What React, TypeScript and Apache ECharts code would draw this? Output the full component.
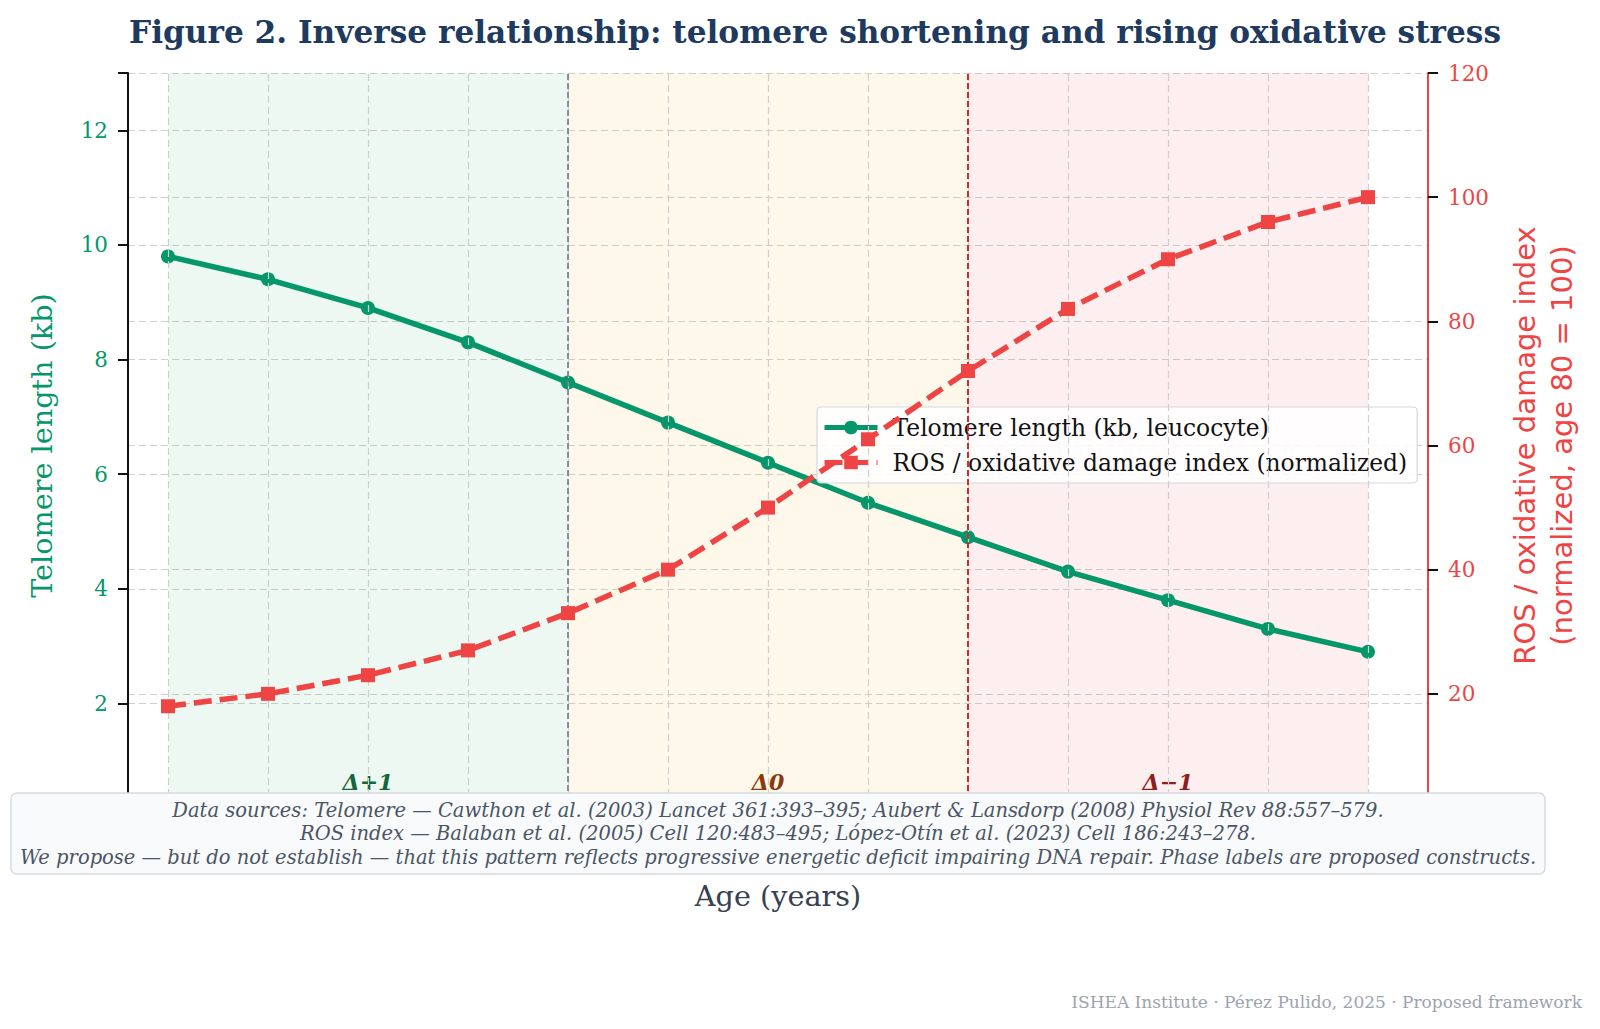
import React, { useEffect, useRef } from "react";
import * as echarts from "echarts";

const AGES = [20, 25, 30, 35, 40, 45, 50, 55, 60, 65, 70, 75, 80];
const TELOMERE = [9.8, 9.4, 8.9, 8.3, 7.6, 6.9, 6.2, 5.5, 4.9, 4.3, 3.8, 3.3, 2.9];
const ROS = [18, 20, 23, 27, 33, 40, 50, 61, 72, 82, 90, 96, 100];

const PHASE_BOUNDS = [20, 40, 60, 80];
const PHASE_LABELS = ["Δ+1", "Δ0", "Δ−1"];
const PHASE_FILLS = ["rgba(40,170,90,0.085)", "rgba(240,195,80,0.12)", "rgba(230,70,70,0.085)"];
const PHASE_TEXT = ["#17663a", "#8a3b0c", "#8f1d1d"];
const BOUNDARY_COLORS = ["rgba(110,120,132,0.8)", "#d12b2b"];

const LEFT_TICKS = { min: 0, max: 13, interval: 2 };
const RIGHT_TICKS = { min: 0, max: 120, interval: 20 };

const TITLE = "Figure 2. Inverse relationship: telomere shortening and rising oxidative stress";
const NOTE_LINES = [
  "Data sources: Telomere — Cawthon et al. (2003) Lancet 361:393–395; Aubert & Lansdorp (2008) Physiol Rev 88:557–579.",
  "ROS index — Balaban et al. (2005) Cell 120:483–495; López-Otín et al. (2023) Cell 186:243–278.",
  "We propose — but do not establish — that this pattern reflects progressive energetic deficit impairing DNA repair. Phase labels are proposed constructs.",
];
const FOOTER = "ISHEA Institute · Pérez Pulido, 2025 · Proposed framework";

const SERIF = "'DejaVu Serif', 'Liberation Serif', serif";
const SANS = "'DejaVu Sans', 'Liberation Sans', sans-serif";
const GREEN = "#059669";
const RED = "#ef4444";

export default function App() {
  const ref = useRef<HTMLDivElement>(null);
  useEffect(() => {
    document.body.style.margin = "0";
    const chart = echarts.init(ref.current!, null, { renderer: "svg" });
    const gridDash = { type: [7, 4] as any, color: "#cfcfcf", width: 1.2 };

    const option: any = {
      animation: false,
      backgroundColor: "#ffffff",
      grid: { left: 128, right: 172, top: 73, bottom: 211, containLabel: false },
      xAxis: {
        type: "value",
        min: 18,
        max: 83,
        axisLine: { show: false },
        axisTick: { show: false },
        axisLabel: { show: false },
        splitLine: { show: false },
        name: "Age (years)",
        nameLocation: "middle",
        nameGap: 63,
        nameTextStyle: { fontFamily: SERIF, fontSize: 28.7, color: "#374151" },
      },
      yAxis: [
        {
          type: "value",
          position: "left",
          ...LEFT_TICKS,
          axisLine: { show: true, lineStyle: { color: "#111", width: 2 } },
          axisTick: { show: true, length: 10, lineStyle: { color: "#111", width: 2 } },
          axisLabel: {
            color: GREEN,
            fontFamily: SERIF,
            fontSize: 21.5,
            margin: 20,
            formatter: (v: number) => (v === 0 || v === 13 ? "" : String(v)),
          },
          splitLine: { show: true, lineStyle: gridDash },
          name: "Telomere length (kb)",
          nameLocation: "middle",
          nameRotate: 90,
          nameGap: 72,
          nameTextStyle: { fontFamily: SERIF, fontSize: 28.7, color: GREEN },
        },
        {
          type: "value",
          position: "right",
          ...RIGHT_TICKS,
          axisLine: { show: true, lineStyle: { color: RED, width: 2 } },
          axisTick: { show: true, length: 10, lineStyle: { color: "#111", width: 2 } },
          axisLabel: {
            color: RED,
            fontFamily: SERIF,
            fontSize: 21.5,
            margin: 20,
            formatter: (v: number) => (v === 0 ? "" : String(v)),
          },
          splitLine: { show: true, lineStyle: gridDash },
          name: "ROS / oxidative damage index\n(normalized, age 80 = 100)",
          nameLocation: "middle",
          nameRotate: 90,
          nameGap: 78,
          nameTextStyle: { fontFamily: SANS, fontSize: 29, color: RED, lineHeight: 37, align: "center" },
        },
      ],
      legend: {
        orient: "vertical",
        left: 817,
        top: 407,
        padding: [9, 10, 9, 5],
        itemGap: 12,
        itemWidth: 53,
        itemHeight: 17,
        backgroundColor: "rgba(255,255,255,0.85)",
        borderColor: "#d4d8de",
        borderWidth: 1.2,
        borderRadius: 4,
        textStyle: { fontFamily: SERIF, fontSize: 23.4, color: "#111", padding: [0, 0, 0, 10] },
        data: [
          { name: "Telomere length (kb, leucocyte)", lineStyle: { width: 5 } },
          { name: "ROS / oxidative damage index (normalized)", lineStyle: { width: 5 } },
        ],
      },
      graphic: [
        {
          type: "text",
          x: 815,
          y: 32,
          z: 100,
          style: {
            text: TITLE,
            fontFamily: SERIF,
            fontWeight: "bold",
            fontSize: 31.2,
            fill: "#1e3a5f",
            textAlign: "center",
            textVerticalAlign: "middle",
          },
        },
        {
          type: "rect",
          z: 100,
          shape: { x: 11, y: 793, width: 1534, height: 81, r: 6 },
          style: { fill: "#f8fafc", stroke: "#d6dbe1", lineWidth: 1.5 },
        },
        {
          type: "text",
          x: 778,
          y: 833.5,
          z: 101,
          style: {
            text: NOTE_LINES.join("\n"),
            fontFamily: SERIF,
            fontStyle: "italic",
            fontSize: 19.5,
            lineHeight: 23.5,
            fill: "#4b5563",
            textAlign: "center",
            textVerticalAlign: "middle",
          },
        },
        {
          type: "text",
          x: 1582,
          y: 1002,
          z: 100,
          style: {
            text: FOOTER,
            fontFamily: SERIF,
            fontSize: 17,
            fill: "#9ca3af",
            textAlign: "right",
            textVerticalAlign: "middle",
          },
        },
      ],
      series: [
        {
          name: "phases",
          type: "line",
          yAxisIndex: 0,
          data: [],
          z: 1,
          silent: true,
          markArea: {
            silent: true,
            data: PHASE_LABELS.map((lab, i) => [
              {
                xAxis: PHASE_BOUNDS[i],
                name: lab,
                itemStyle: { color: PHASE_FILLS[i] },
                label: { color: PHASE_TEXT[i] },
              },
              { xAxis: PHASE_BOUNDS[i + 1] },
            ]),
            label: {
              show: true,
              position: "insideBottom",
              distance: 25,
              fontFamily: SERIF,
              fontStyle: "italic",
              fontWeight: "bold",
              fontSize: 22,
            },
          },
          markLine: {
            silent: true,
            symbol: ["none", "none"],
            label: { show: false },
            lineStyle: gridDash,
            data: [
              ...AGES.map((a) => ({ xAxis: a })),
              { xAxis: PHASE_BOUNDS[1], lineStyle: { color: BOUNDARY_COLORS[0], type: [6, 3], width: 2 } },
              { xAxis: PHASE_BOUNDS[2], lineStyle: { color: BOUNDARY_COLORS[1], type: [6, 3], width: 2 } },
            ],
          },
        },
        {
          name: "Telomere length (kb, leucocyte)",
          type: "line",
          yAxisIndex: 0,
          data: AGES.map((a, i) => [a, TELOMERE[i]]),
          symbol: "circle",
          symbolSize: 14,
          z: 3,
          lineStyle: { color: GREEN, width: 5.5 },
          itemStyle: { color: GREEN, borderWidth: 0 },
        },
        {
          name: "ROS / oxidative damage index (normalized)",
          type: "line",
          yAxisIndex: 1,
          data: AGES.map((a, i) => [a, ROS[i]]),
          symbol: "rect",
          symbolSize: 14,
          z: 5,
          lineStyle: { color: RED, width: 5.5, type: [18, 8] },
          itemStyle: { color: RED, borderWidth: 0 },
        },
      ],
    };
    chart.setOption(option);
    return () => chart.dispose();
  }, []);
  return <div ref={ref} style={{ width: 1600, height: 1029 }} />;
}
